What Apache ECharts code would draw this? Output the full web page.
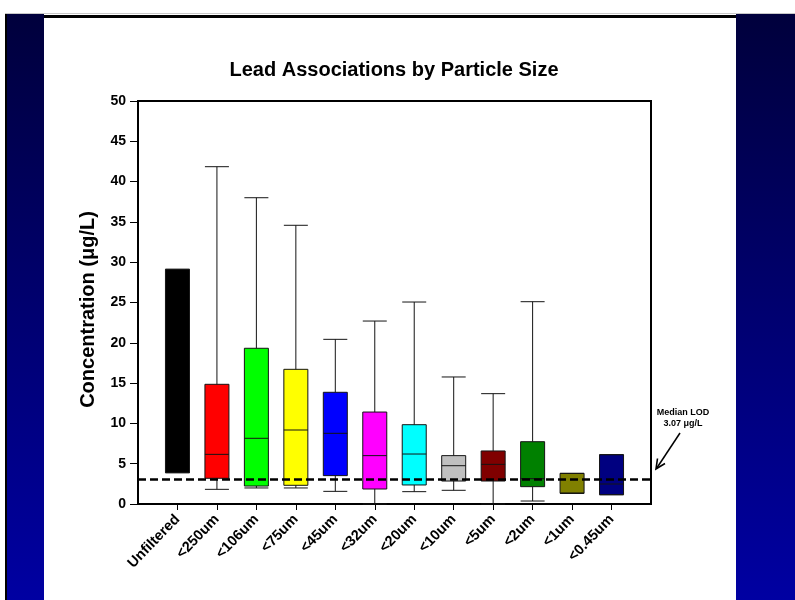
<!DOCTYPE html>
<html>
<head>
<meta charset="utf-8">
<script src="https://cdn.jsdelivr.net/npm/echarts@6/dist/echarts.min.js"></script>
<style>
  html, body { margin: 0; padding: 0; background: #ffffff; }
  #chart { width: 795px; height: 600px; }
</style>
</head>
<body>
<div id="chart"></div>
<script>
// Filter size classes along the x axis
const categories = ['Unfiltered', '<250um', '<106um', '<75um', '<45um', '<32um',
                    '<20um', '<10um', '<5um', '<2um', '<1um', '<0.45um'];
const boxColors = ['#000000', '#ff0000', '#00ff00', '#ffff00', '#0000ff', '#ff00ff',
                   '#00ffff', '#c0c0c0', '#800000', '#008000', '#808000', '#000080'];

// Box statistics, lead concentration in µg/L
const lowerWhisker = [3.89, 1.82, 1.99, 1.99, 1.57, 0.00, 1.53, 1.70, 0.00, 0.37, 1.33, 1.15];
const quartile1    = [3.89, 3.19, 2.23, 2.32, 3.52, 1.86, 2.36, 2.85, 2.85, 2.15, 1.33, 1.15];
const medians      = [3.89, 6.16, 8.15, 9.18, 8.77, 6.00, 6.20, 4.75, 4.92, 3.14, 1.33, 2.48];
const quartile3    = [29.12, 14.85, 19.32, 16.71, 13.86, 11.41, 9.84, 6.00, 6.58, 7.73, 3.80, 6.12];
const upperWhisker = [29.12, 41.85, 38.00, 34.58, 20.43, 22.70, 25.06, 15.76, 13.69, 25.10, 3.80, 6.12];

// Median limit of detection
const lodValue = 3.07;

// Y axis range
const yMin = 0, yMax = 50, yStep = 5;

const FONT = 'Liberation Sans, Arial, Helvetica, sans-serif';

// one slot per class, placed at 1..n on the x axis
const slots = categories.map((_, i) => i + 1);

const boxData = categories.map((name, i) => ({
  name: name,
  value: [slots[i], lowerWhisker[i], quartile1[i], medians[i], quartile3[i], upperWhisker[i]],
  itemStyle: { color: boxColors[i], borderColor: '#141414', borderWidth: 1 }
}));

const chart = echarts.init(document.getElementById('chart'), null, { renderer: 'canvas' });

const panelFill = () => new echarts.graphic.LinearGradient(0, 0, 0, 1, [
  { offset: 0, color: '#00003c' }, { offset: 1, color: '#0000a2' }]);

chart.setOption({
  animation: false,
  backgroundColor: '#ffffff',
  title: {
    text: 'Lead Associations by Particle Size',
    left: 389,
    top: 55,
    textAlign: 'center',
    textStyle: { fontFamily: FONT, fontSize: 20, fontWeight: 'bold', color: '#000' }
  },
  graphic: [
    // slide side panels and header rule
    {
      type: 'rect', silent: true, z: -10,
      shape: { x: 5, y: 14, width: 39, height: 586 },
      style: { fill: panelFill() }
    },
    {
      type: 'rect', silent: true, z: -9,
      shape: { x: 5, y: 14, width: 2, height: 586 },
      style: { fill: '#000000' }
    },
    {
      type: 'rect', silent: true, z: -10,
      shape: { x: 736, y: 14, width: 59, height: 586 },
      style: { fill: panelFill() }
    },
    {
      type: 'rect', silent: true, z: -10,
      shape: { x: 5, y: 13, width: 790, height: 1 },
      style: { fill: '#c8c8c8' }
    },
    {
      type: 'rect', silent: true, z: -9,
      shape: { x: 44, y: 15, width: 692, height: 3 },
      style: { fill: '#000000' }
    },
    // LOD annotation
    {
      type: 'text', silent: true,
      x: 683, y: 418,
      style: {
        text: 'Median LOD\n3.07 μg/L',
        fontFamily: FONT, fontSize: 9, fontWeight: 'bold', fill: '#000',
        align: 'center', verticalAlign: 'middle', lineHeight: 11
      }
    },
    {
      type: 'line', silent: true,
      shape: { x1: 680, y1: 433, x2: 656.5, y2: 468.5 },
      style: { stroke: '#000', lineWidth: 1.5 }
    },
    {
      type: 'polyline', silent: true,
      shape: { points: [[665, 463.5], [656, 469], [657.5, 458.5]] },
      style: { stroke: '#000', lineWidth: 1.6, fill: null }
    }
  ],
  grid: {
    left: 138, right: 144, top: 101, bottom: 96,
    show: true, borderColor: '#000', borderWidth: 2, backgroundColor: 'transparent'
  },
  xAxis: {
    type: 'value',
    min: 0, max: categories.length + 1, interval: 1,
    splitLine: { show: false },
    axisLine: { show: true, lineStyle: { color: '#000', width: 2 } },
    axisTick: { show: true, length: 6, customValues: slots, lineStyle: { color: '#000', width: 1 } },
    axisLabel: {
      rotate: 46, margin: 13,
      customValues: slots,
      fontFamily: FONT, fontSize: 14.5, fontWeight: 'bold', color: '#000',
      formatter: v => categories[v - 1] || ''
    }
  },
  yAxis: {
    type: 'value',
    min: yMin, max: yMax, interval: yStep,
    name: 'Concentration (μg/L)',
    nameLocation: 'middle',
    nameGap: 40,
    nameTextStyle: {
      fontFamily: FONT, fontSize: 20, fontWeight: 'bold', color: '#000',
      padding: [0, 14, 0, 0]
    },
    splitLine: { show: false },
    axisLine: { show: true, lineStyle: { color: '#000', width: 2 } },
    axisTick: { show: true, length: 8, lineStyle: { color: '#000', width: 1 } },
    axisLabel: { margin: 12, fontFamily: FONT, fontSize: 14, fontWeight: 'bold', color: '#000' }
  },
  series: [{
    type: 'boxplot',
    boxWidth: [24, 24],
    data: boxData,
    emphasis: { disabled: true },
    markLine: {
      silent: true,
      symbol: 'none',
      label: { show: false },
      lineStyle: { color: '#000', width: 2.5, type: [8, 4] },
      data: [{ yAxis: lodValue }]
    }
  }]
});
</script>
</body>
</html>
